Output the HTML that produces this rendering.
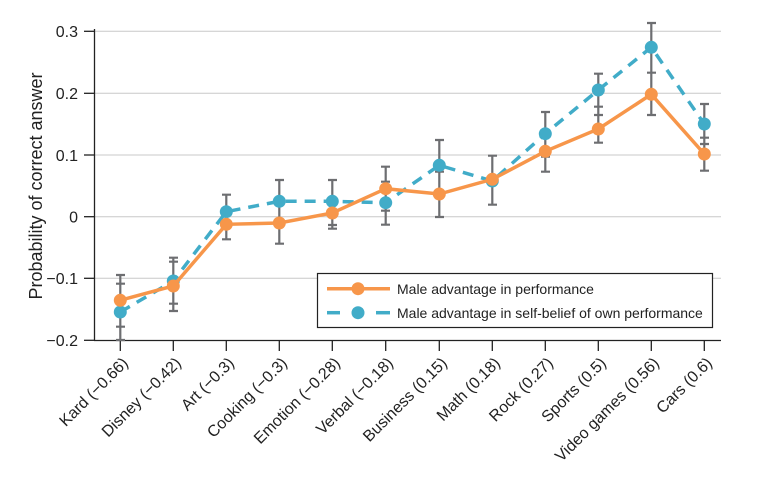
<!DOCTYPE html>
<html><head><meta charset="utf-8"><style>html,body{margin:0;padding:0;background:#fff}svg{display:block}text{font-family:"Liberation Sans",Arial,sans-serif;fill:#222}</style></head><body>
<svg width="784" height="480" viewBox="0 0 784 480" xmlns="http://www.w3.org/2000/svg">
<g stroke="#c8c8c8" stroke-width="1">
<line x1="95" y1="31.3" x2="721" y2="31.3"/><line x1="95" y1="93.3" x2="721" y2="93.3"/><line x1="95" y1="155" x2="721" y2="155"/><line x1="95" y1="216.7" x2="721" y2="216.7"/><line x1="95" y1="278.3" x2="721" y2="278.3"/>
</g>
<g stroke="#222" stroke-width="1.3">
<line x1="94.5" y1="29" x2="94.5" y2="340.5"/><line x1="94" y1="340.5" x2="721" y2="340.5"/>
<line x1="84" y1="31.3" x2="94" y2="31.3"/><line x1="84" y1="93.3" x2="94" y2="93.3"/><line x1="84" y1="155" x2="94" y2="155"/><line x1="84" y1="216.7" x2="94" y2="216.7"/><line x1="84" y1="278.3" x2="94" y2="278.3"/><line x1="84" y1="340.3" x2="94" y2="340.3"/>
<line x1="120.3" y1="340" x2="120.3" y2="351"/><line x1="173.3" y1="340" x2="173.3" y2="351"/><line x1="226.3" y1="340" x2="226.3" y2="351"/><line x1="279.3" y1="340" x2="279.3" y2="351"/><line x1="332.3" y1="340" x2="332.3" y2="351"/><line x1="385.7" y1="340" x2="385.7" y2="351"/><line x1="439.3" y1="340" x2="439.3" y2="351"/><line x1="492.3" y1="340" x2="492.3" y2="351"/><line x1="545.3" y1="340" x2="545.3" y2="351"/><line x1="598.3" y1="340" x2="598.3" y2="351"/><line x1="651.3" y1="340" x2="651.3" y2="351"/><line x1="704.3" y1="340" x2="704.3" y2="351"/>
</g>
<g font-size="16" text-anchor="end">
<text x="78" y="37">0.3</text><text x="78" y="99">0.2</text><text x="78" y="161">0.1</text><text x="78" y="222.5">0</text><text x="78" y="284">−0.1</text><text x="78" y="346">−0.2</text>
</g>
<text transform="translate(42,186) rotate(-90)" font-size="18" text-anchor="middle">Probability of correct answer</text>
<g font-size="16" text-anchor="end">
<text transform="translate(129,364) rotate(-45)">Kard (−0.66)</text>
<text transform="translate(182,364) rotate(-45)">Disney (−0.42)</text>
<text transform="translate(235,364) rotate(-45)">Art (−0.3)</text>
<text transform="translate(288,364) rotate(-45)">Cooking (−0.3)</text>
<text transform="translate(341,364) rotate(-45)">Emotion (−0.28)</text>
<text transform="translate(394,364) rotate(-45)">Verbal (−0.18)</text>
<text transform="translate(448,364) rotate(-45)">Business (0.15)</text>
<text transform="translate(501,364) rotate(-45)">Math (0.18)</text>
<text transform="translate(554,364) rotate(-45)">Rock (0.27)</text>
<text transform="translate(607,364) rotate(-45)">Sports (0.5)</text>
<text transform="translate(660,364) rotate(-45)">Video games (0.56)</text>
<text transform="translate(713,364) rotate(-45)">Cars (0.6)</text>
</g>
<g stroke="#6d6e71" stroke-width="2.2">
<path d="M120.3 275V340M116 275h9M116 283.7h9M116 326.7h9M116 340h9"/>
<path d="M173.3 257.7V311M169 257.7h9M169 261.7h9M169 303.7h9M169 311h9"/>
<path d="M226.3 194.7V239.3M222 194.7h9M222 239.3h9"/>
<path d="M279.3 180V243.7M275 180h9M275 243.7h9"/>
<path d="M332.3 180V228.7M328 180h9M328 225h9M328 228.7h9"/>
<path d="M385.7 166.7V224.7M381 166.7h9M381 181.7h9M381 210.7h9M381 224.7h9"/>
<path d="M439.3 140V217M435 140h9M435 171.7h9M435 217h9"/>
<path d="M492.3 155.7V204.7M488 155.7h9M488 204.7h9"/>
<path d="M545.3 112V171.7M541 112h9M541 156.7h9M541 171.7h9"/>
<path d="M598.3 73.7V142.7M594 73.7h9M594 106.7h9M594 115h9M594 142.7h9"/>
<path d="M651.3 23V115M647 23h9M647 72.7h9M647 115h9"/>
<path d="M704.3 104V170.7M700 104h9M700 137.7h9M700 144h9M700 170.7h9"/>
</g>
<polyline fill="none" stroke="#41acc8" stroke-width="3.5" stroke-dasharray="11 8" points="120.3,312 173.3,281 226.3,211.7 279.3,201.3 332.3,201.3 385.7,202.7 439.3,165.3 492.3,181 545.3,133.7 598.3,90 651.3,47.3 704.3,124"/>
<g fill="#41acc8"><circle cx="120.3" cy="312" r="6.5"/><circle cx="173.3" cy="281" r="6.5"/><circle cx="226.3" cy="211.7" r="6.5"/><circle cx="279.3" cy="201.3" r="6.5"/><circle cx="332.3" cy="201.3" r="6.5"/><circle cx="385.7" cy="202.7" r="6.5"/><circle cx="439.3" cy="165.3" r="6.5"/><circle cx="492.3" cy="181" r="6.5"/><circle cx="545.3" cy="133.7" r="6.5"/><circle cx="598.3" cy="90" r="6.5"/><circle cx="651.3" cy="47.3" r="6.5"/><circle cx="704.3" cy="124" r="6.5"/></g>
<polyline fill="none" stroke="#f7964a" stroke-width="3.5" points="120.3,300.3 173.3,286 226.3,224.3 279.3,223 332.3,213 385.7,188.7 439.3,194 492.3,179.3 545.3,151.3 598.3,129 651.3,94.3 704.3,154"/>
<g fill="#f7964a"><circle cx="120.3" cy="300.3" r="6.5"/><circle cx="173.3" cy="286" r="6.5"/><circle cx="226.3" cy="224.3" r="6.5"/><circle cx="279.3" cy="223" r="6.5"/><circle cx="332.3" cy="213" r="6.5"/><circle cx="385.7" cy="188.7" r="6.5"/><circle cx="439.3" cy="194" r="6.5"/><circle cx="492.3" cy="179.3" r="6.5"/><circle cx="545.3" cy="151.3" r="6.5"/><circle cx="598.3" cy="129" r="6.5"/><circle cx="651.3" cy="94.3" r="6.5"/><circle cx="704.3" cy="154" r="6.5"/></g>
<rect x="317.5" y="273.5" width="395" height="54" fill="#fff" stroke="#222" stroke-width="1.2"/>
<line x1="327" y1="288.7" x2="390" y2="288.7" stroke="#f7964a" stroke-width="3.5"/><circle cx="358" cy="288.7" r="6.5" fill="#f7964a"/>
<line x1="327" y1="312.7" x2="340" y2="312.7" stroke="#41acc8" stroke-width="3.5"/><line x1="376" y1="312.7" x2="390" y2="312.7" stroke="#41acc8" stroke-width="3.5"/><circle cx="358" cy="312.7" r="6.5" fill="#41acc8"/>
<g font-size="14"><text x="397" y="294">Male advantage in performance</text><text x="397" y="318">Male advantage in self-belief of own performance</text></g>
</svg>
</body></html>
